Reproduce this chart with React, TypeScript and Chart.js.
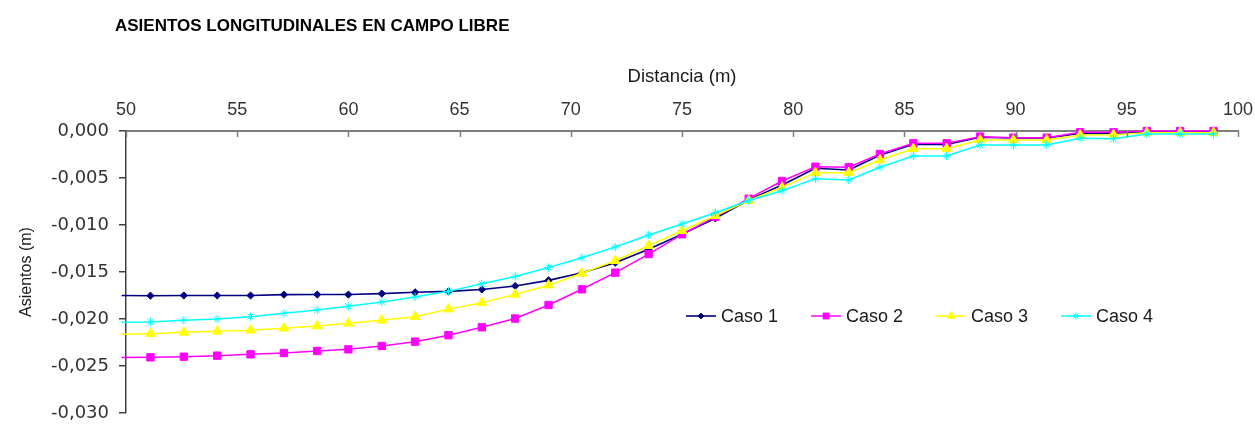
import React, { useEffect, useRef } from 'react';
import { Chart, registerables } from 'chart.js';

Chart.register(...registerables);

const TITLE = 'ASIENTOS LONGITUDINALES EN CAMPO LIBRE';
const X_TITLE = 'Distancia (m)';
const Y_TITLE = 'Asientos (m)';
const SERIES_NAMES = ['Caso 1', 'Caso 2', 'Caso 3', 'Caso 4'];
const SERIES_COLORS = ['#000080', '#FF00FF', '#FFFF00', '#00FFFF'];
const SERIES_MARKERS = ['rectRot', 'rect', 'triangle', 'star'];

const X_MIN = 50;
const X_MAX = 100;
const X_STEP = 5;
const Y_MIN = -0.03;
const Y_MAX = 0;
const Y_STEP = 0.005;

// Distancia (m); first entry is the line's lead-in (no marker)
const distancias = [
  49.8, 51.1, 52.6, 54.1, 55.6, 57.1, 58.6, 60.0, 61.5, 63.0, 64.5, 66.0,
  67.5, 69.0, 70.5, 72.0, 73.5, 75.0, 76.5, 78.0, 79.5, 81.0, 82.5, 83.9,
  85.4, 86.9, 88.4, 89.9, 91.4, 92.9, 94.4, 95.9, 97.4, 98.9,
];

const caso1 = [
  -0.0175, -0.01752, -0.0175, -0.0175, -0.0175, -0.01741, -0.0174, -0.0174,
  -0.0173, -0.01716, -0.01706, -0.01686, -0.01649, -0.01589, -0.01507,
  -0.01401, -0.01259, -0.01099, -0.00929, -0.00734, -0.00574, -0.00397,
  -0.00415, -0.00259, -0.00142, -0.00142, -0.00067, -0.00074, -0.00074,
  -0.00025, -0.00025, -0.0001, -0.0001, -0.0001,
];

const caso2 = [
  -0.0241, -0.02408, -0.02401, -0.0239, -0.02376, -0.02362, -0.0234,
  -0.02323, -0.02287, -0.02241, -0.02172, -0.02088, -0.01995, -0.01851,
  -0.01684, -0.01507, -0.01309, -0.01099, -0.00912, -0.0072, -0.00532,
  -0.0038, -0.00386, -0.00245, -0.00131, -0.00131, -0.0006, -0.00071,
  -0.00071, -0.00014, -0.00014, 0, 0, 0,
];

const caso3 = [
  -0.02163, -0.02156, -0.02142, -0.02131, -0.0212, -0.02099, -0.02074,
  -0.02046, -0.02014, -0.01975, -0.01895, -0.01827, -0.01738, -0.0164,
  -0.01514, -0.0138, -0.0122, -0.01061, -0.00901, -0.0074, -0.00599,
  -0.00443, -0.00443, -0.00309, -0.00188, -0.00188, -0.00096, -0.00096,
  -0.00096, -0.00043, -0.0004, -0.00018, -0.00018, -0.00018,
];

const caso4 = [
  -0.02035, -0.02032, -0.02014, -0.02, -0.01975, -0.0194, -0.01904,
  -0.01865, -0.01819, -0.01766, -0.01706, -0.01626, -0.01547, -0.01452,
  -0.01348, -0.01234, -0.01106, -0.00989, -0.00869, -0.0074, -0.00635,
  -0.00507, -0.0052, -0.00386, -0.00266, -0.00266, -0.00149, -0.00149,
  -0.00149, -0.00078, -0.00082, -0.00032, -0.00032, -0.00032,
];

const SERIES_VALUES = [caso1, caso2, caso3, caso4];
const MARKER_RADII = [3.6, 5.2, 5.6, 4.2];

const ARIAL = '"Liberation Sans", Arial, sans-serif';
const VERDANA = '"DejaVu Sans", Verdana, sans-serif';

function drawMarker(ctx: CanvasRenderingContext2D, style: string, x: number, y: number, r: number, color: string) {
  ctx.save();
  ctx.fillStyle = color;
  ctx.strokeStyle = color;
  ctx.lineWidth = 1;
  ctx.beginPath();
  if (style === 'rectRot') {
    ctx.moveTo(x, y - r);
    ctx.lineTo(x + r, y);
    ctx.lineTo(x, y + r);
    ctx.lineTo(x - r, y);
    ctx.closePath();
    ctx.fill();
    ctx.stroke();
  } else if (style === 'rect') {
    const s = Math.SQRT1_2 * r;
    ctx.rect(x - s, y - s, 2 * s, 2 * s);
    ctx.fill();
    ctx.stroke();
  } else if (style === 'triangle') {
    const a = Math.PI * 2 / 3;
    ctx.moveTo(x, y - r);
    ctx.lineTo(x + Math.sin(a) * r, y - Math.cos(a) * r);
    ctx.lineTo(x - Math.sin(a) * r, y - Math.cos(a) * r);
    ctx.closePath();
    ctx.fill();
    ctx.stroke();
  } else {
    const d = Math.SQRT1_2 * r;
    ctx.moveTo(x, y - r); ctx.lineTo(x, y + r);
    ctx.moveTo(x - r, y); ctx.lineTo(x + r, y);
    ctx.moveTo(x - d, y - d); ctx.lineTo(x + d, y + d);
    ctx.moveTo(x - d, y + d); ctx.lineTo(x + d, y - d);
    ctx.stroke();
  }
  ctx.restore();
}

const decorPlugin = {
  id: 'decor',
  afterDraw(chart: any) {
    const ctx: CanvasRenderingContext2D = chart.ctx;
    const xs = chart.scales.x;
    const area = chart.chartArea;
    ctx.save();
    // inward tick marks on the top axis
    ctx.strokeStyle = '#7f7f7f';
    ctx.lineWidth = 1.5;
    xs.ticks.forEach((t: any) => {
      const px = Math.round(xs.getPixelForValue(t.value)) + 0.5;
      ctx.beginPath();
      ctx.moveTo(px, area.top);
      ctx.lineTo(px, area.top + 6);
      ctx.stroke();
    });
    // title
    ctx.font = `bold 17px ${ARIAL}`;
    ctx.fillStyle = '#000000';
    ctx.textAlign = 'left';
    ctx.textBaseline = 'alphabetic';
    ctx.fillText(TITLE, 115, 30.5);
    // legend
    const legendY = 316;
    chart.data.datasets.forEach((ds: any, i: number) => {
      const x0 = 686 + i * 125;
      ctx.strokeStyle = ds.borderColor;
      ctx.lineWidth = ds.borderWidth;
      ctx.beginPath();
      ctx.moveTo(x0, legendY);
      ctx.lineTo(x0 + 30, legendY);
      ctx.stroke();
      drawMarker(ctx, SERIES_MARKERS[i], x0 + 15, legendY, MARKER_RADII[i] * 0.8, ds.borderColor);
      ctx.font = `18px ${ARIAL}`;
      ctx.fillStyle = '#1a1a1a';
      ctx.textAlign = 'left';
      ctx.textBaseline = 'middle';
      ctx.fillText(ds.label, x0 + 35, legendY + 1);
    });
    ctx.restore();
  },
};

export default function App() {
  const canvasRef = useRef<HTMLCanvasElement | null>(null);

  useEffect(() => {
    if (!canvasRef.current) return;
    const datasets = SERIES_NAMES.map((name, i) => ({
      label: name,
      data: distancias.map((x, j) => ({ x, y: SERIES_VALUES[i][j] })),
      borderColor: SERIES_COLORS[i],
      backgroundColor: SERIES_COLORS[i],
      borderWidth: i === 0 ? 1.6 : 1.5,
      pointStyle: SERIES_MARKERS[i],
      pointRadius: distancias.map((_, j) => (j === 0 ? 0 : MARKER_RADII[i])),
      pointBorderWidth: 1,
      pointBorderColor: SERIES_COLORS[i],
      pointBackgroundColor: SERIES_COLORS[i],
      tension: 0,
      clip: false as any,
      order: 4 - i,
    }));

    const chart = new Chart(canvasRef.current, {
      type: 'line',
      data: { datasets },
      plugins: [decorPlugin],
      options: {
        animation: false,
        responsive: true,
        maintainAspectRatio: false,
        layout: { padding: { left: 0, top: 0, right: 17, bottom: 13 } },
        plugins: {
          legend: { display: false },
          title: { display: false },
          tooltip: { enabled: false },
        },
        scales: {
          x: {
            type: 'linear',
            position: 'top',
            min: X_MIN,
            max: X_MAX,
            afterFit: (scale: any) => {
              scale.height = 131;
              scale.paddingLeft = 0;
              scale.paddingRight = 0;
            },
            ticks: {
              stepSize: X_STEP,
              color: '#333333',
              font: { family: ARIAL, size: 18 },
              padding: 10,
              maxRotation: 0,
            },
            grid: { display: true, drawOnChartArea: false, drawTicks: false },
            border: { display: true, color: '#7f7f7f', width: 2 },
            title: {
              display: true,
              text: X_TITLE,
              color: '#1a1a1a',
              font: { family: ARIAL, size: 18.5 },
              padding: { top: 65.5, bottom: 0 },
            },
          },
          y: {
            type: 'linear',
            position: 'left',
            min: Y_MIN,
            max: Y_MAX,
            afterFit: (scale: any) => {
              scale.width = 126;
              scale.paddingTop = 0;
              scale.paddingBottom = 0;
            },
            ticks: {
              stepSize: Y_STEP,
              color: '#333333',
              font: { family: VERDANA, size: 18 },
              padding: 10,
              callback: (v: any) => {
                const n = Math.abs(v) < 1e-9 ? 0 : Number(v);
                return n.toFixed(3).replace('.', ',');
              },
            },
            grid: { display: true, drawOnChartArea: false, drawTicks: true, tickLength: 7, color: '#404040', lineWidth: 1.5 },
            border: { display: true, color: '#404040', width: 1.5 },
            title: {
              display: true,
              text: Y_TITLE,
              color: '#1a1a1a',
              font: { family: ARIAL, size: 16 },
              padding: { top: 17, bottom: 0 },
            },
          },
        },
      },
    });
    return () => chart.destroy();
  }, []);

  return (
    <div style={{ position: 'fixed', left: 0, top: 0, width: 1255, height: 426, background: '#ffffff' }}>
      <canvas ref={canvasRef} />
    </div>
  );
}
